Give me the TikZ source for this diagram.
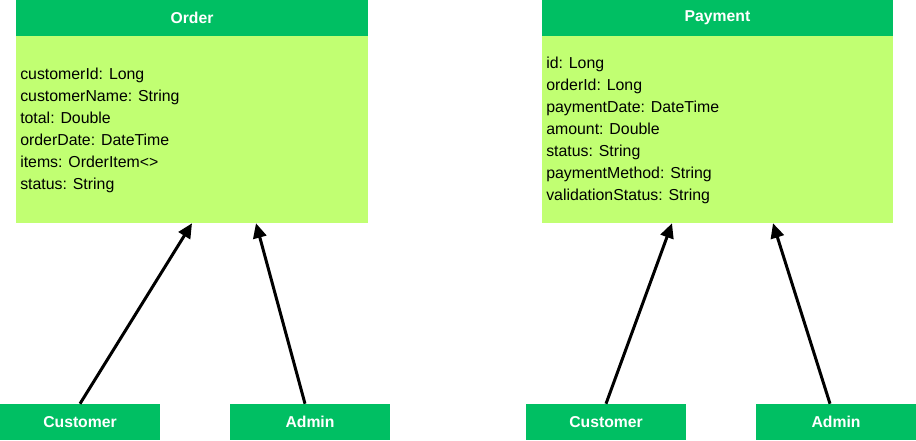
\documentclass[tikz,border=0pt]{standalone}
\usepackage{fontspec}
\setmainfont{Liberation Sans}
\usetikzlibrary{arrows.meta,calc}
\definecolor{hdr}{HTML}{00BF63}
\definecolor{bdy}{HTML}{C1FF72}
\begin{document}
\begin{tikzpicture}[x=0.75pt,y=-0.75pt,
  hbox/.style={fill=hdr,draw=none,inner sep=0pt,text=white,font=\fontsize{11.8}{13}\selectfont\bfseries},
  bbox/.style={fill=bdy,draw=none,inner sep=0pt},
  attr/.style={anchor=base west,inner sep=0pt,font=\fontsize{11.9}{13}\selectfont},
  conn/.style={line width=2.25pt,-{Triangle[length=11pt,width=10pt]}}]
\useasboundingbox (0,0) rectangle (916,441);
% Order class
\node[bbox,minimum width=264pt,minimum height=140.25pt] (obody) at (192,129.5) {};
\node[hbox,minimum width=264pt,minimum height=27pt] (ohead) at (192,18) {Order};
\foreach \t [count=\i] in {customerId: Long,customerName: String,total: Double,orderDate: DateTime,items: OrderItem<>,status: String}
  \node[attr] (oa\i) at (20,{79.5+(\i-1)*22}) {\t};
% Payment class
\node[bbox,minimum width=263.25pt,minimum height=140.25pt] (pbody) at (717.5,129.5) {};
\node[hbox,minimum width=263.25pt,minimum height=27pt] (phead) at (717.5,18) {Payment};
\foreach \t [count=\i] in {id: Long,orderId: Long,paymentDate: DateTime,amount: Double,status: String,paymentMethod: String,validationStatus: String}
  \node[attr] (pa\i) at (546,{68.5+(\i-1)*22}) {\t};
% actors
\node[hbox,minimum width=120pt,minimum height=27pt] (cust1) at (80,422) {Customer};
\node[hbox,minimum width=120pt,minimum height=27pt] (adm1) at (310,422) {Admin};
\node[hbox,minimum width=120pt,minimum height=27pt] (cust2) at (606,422) {Customer};
\node[hbox,minimum width=120pt,minimum height=27pt] (adm2) at (836,422) {Admin};
% connectors
\coordinate (o1) at (obody.south);
\coordinate (o2) at ($(obody.south)+(64,0)$);
\coordinate (p1) at ($(pbody.south)+(-45.5,0)$);
\coordinate (p2) at ($(pbody.south)+(55.5,0)$);
\coordinate (a1) at ($(adm1.north)+(-5,0)$);
\coordinate (a2) at ($(adm2.north)+(-6,0)$);
\draw[conn] (cust1.north) -- (o1);
\draw[conn] (a1) -- (o2);
\draw[conn] (cust2.north) -- (p1);
\draw[conn] (a2) -- (p2);
\end{tikzpicture}
\end{document}
